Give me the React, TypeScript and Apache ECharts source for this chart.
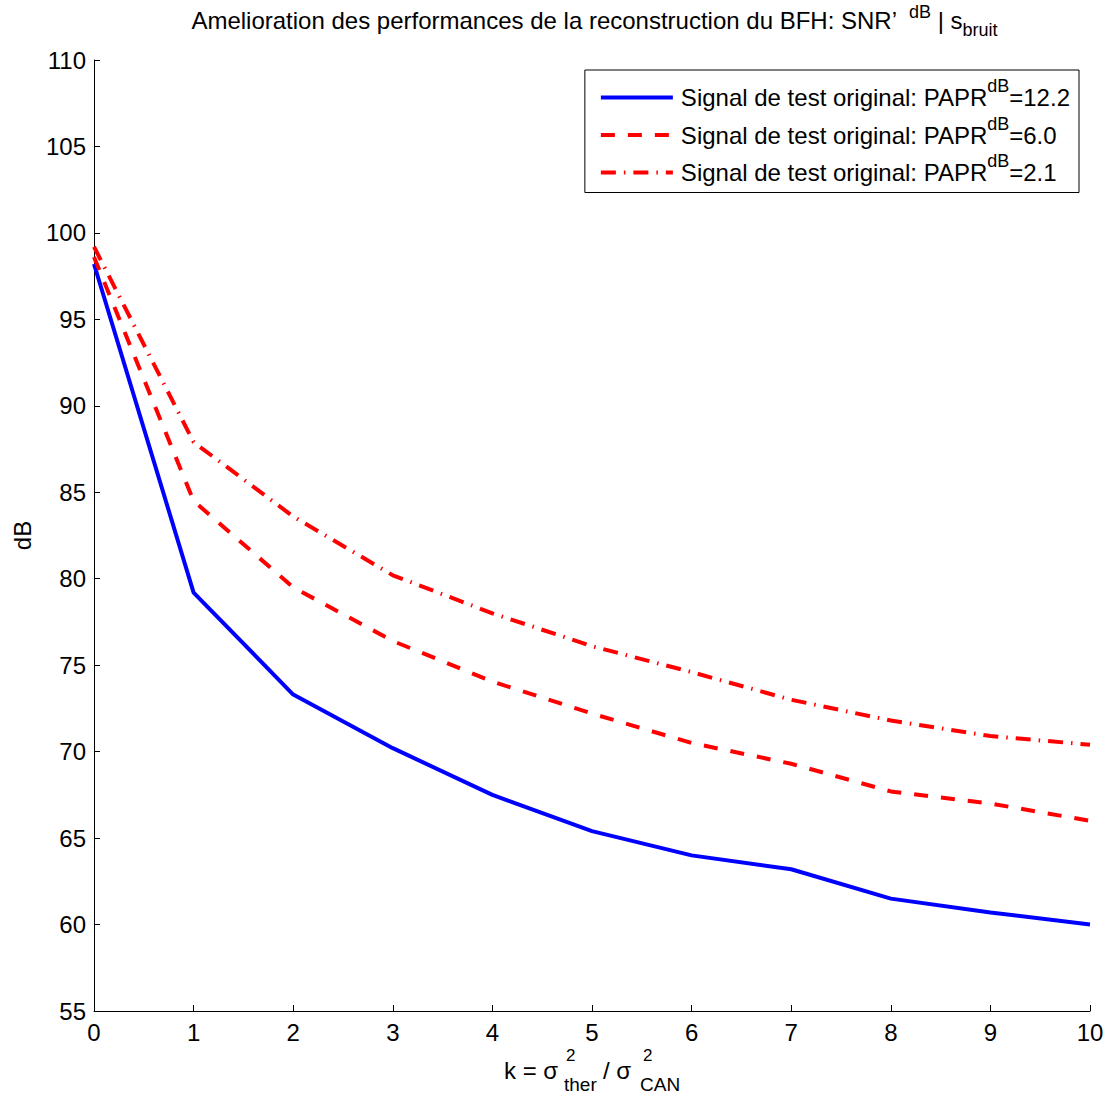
import React, { useEffect, useRef } from "react";
import * as echarts from "echarts";

const xValues = [0, 1, 2, 3, 4, 5, 6, 7, 8, 9, 10];
const papr122 = [98.2, 79.2, 73.3, 70.2, 67.5, 65.4, 64.0, 63.2, 61.5, 60.7, 60.0];
const papr60 = [98.6, 84.5, 79.5, 76.4, 74.05, 72.2, 70.5, 69.3, 67.7, 67.0, 66.0];
const papr21 = [99.2, 87.9, 83.6, 80.2, 78.0, 76.1, 74.6, 73.0, 71.8, 70.9, 70.4];
const paprLabels = ["12.2", "6.0", "2.1"];
const seriesNames = [
  "Signal de test original: PAPR^dB=12.2",
  "Signal de test original: PAPR^dB=6.0",
  "Signal de test original: PAPR^dB=2.1",
];
const titleMain = "Amelioration des performances de la reconstruction du BFH: SNR’";
const titleSup = "dB";
const titleMid = " | s";
const titleSub = "bruit";

const FONT = "'Liberation Sans', Arial, Helvetica, sans-serif";
const FS = 24;

function measure(text: string, size: number): number {
  const ctx = document.createElement("canvas").getContext("2d");
  if (!ctx) return text.length * size * 0.5;
  ctx.font = `${size}px ${FONT}`;
  return ctx.measureText(text).width;
}

export default function App() {
  const ref = useRef<HTMLDivElement>(null);
  useEffect(() => {
    document.body.style.margin = "0";
    if (!ref.current) return;
    const chart = echarts.init(ref.current, null, { renderer: "svg" });
    const toData = (ys: number[]) => xValues.map((x, i) => [x, ys[i]]);

    const SUP = 18;
    const gapSup = 12;
    const w1 = measure(titleMain, FS);
    const w2 = measure(titleSup, SUP);
    const w3 = measure(titleMid, FS);
    const w4 = measure(titleSub, SUP);
    const total = w1 + gapSup + w2 + w3 + w4;
    const x0 = 594.5 - total / 2;
    const x2 = x0 + w1 + gapSup;
    const x3 = x2 + w2;
    const x4 = x3 + w3;
    const txt = (text: string, x: number, y: number, size: number) => ({
      type: "text",
      x,
      y,
      style: { text, fontSize: size, fontFamily: FONT, fill: "#000", align: "left", verticalAlign: "middle" },
    });

    const option: any = {
      animation: false,
      backgroundColor: "#fff",
      textStyle: { fontFamily: FONT },
      grid: {
        left: 94,
        right: 23,
        top: 60,
        bottom: 84,
        containLabel: false,
        outerBoundsMode: "none",
      },
      xAxis: {
        type: "value",
        min: 0,
        max: 10,
        interval: 1,
        axisLine: { show: true, lineStyle: { color: "#000", width: 1 } },
        axisTick: { show: true, inside: true, length: 6, lineStyle: { color: "#000" } },
        axisLabel: { color: "#000", fontSize: FS, fontFamily: FONT, margin: 9 },
        splitLine: { show: false },
      },
      yAxis: {
        type: "value",
        min: 55,
        max: 110,
        interval: 5,
        name: "dB",
        nameLocation: "middle",
        nameGap: 60,
        nameTextStyle: { color: "#000", fontSize: FS, fontFamily: FONT },
        axisLine: { show: true, lineStyle: { color: "#000", width: 1 } },
        axisTick: { show: true, inside: true, length: 6, lineStyle: { color: "#000" } },
        axisLabel: { color: "#000", fontSize: FS, fontFamily: FONT, margin: 8 },
        splitLine: { show: false },
      },
      legend: {
        orient: "vertical",
        right: 34,
        top: 70,
        padding: [7, 9, 8, 14],
        itemWidth: 72,
        itemHeight: 20,
        itemGap: 5,
        borderColor: "#000",
        borderWidth: 1,
        borderRadius: 0,
        backgroundColor: "#fff",
        lineStyle: { width: 4 },
        itemStyle: { opacity: 0, borderWidth: 0 },
        data: seriesNames,
        formatter: (name: string) => {
          const idx = seriesNames.indexOf(name);
          return `{f|Signal de test original: PAPR}{sup|dB}{a|=${paprLabels[idx]}}`;
        },
        textStyle: {
          color: "#000",
          fontSize: FS,
          fontFamily: FONT,
          rich: {
            f: { fontSize: FS, lineHeight: 41, fontFamily: FONT, color: "#000", padding: [0, 0, 0, 3] },
            a: { fontSize: FS, lineHeight: 41, fontFamily: FONT, color: "#000" },
            sup: { fontSize: 18, lineHeight: 10, verticalAlign: "top", fontFamily: FONT, color: "#000" },
          },
        },
      },
      series: [
        {
          name: seriesNames[0],
          type: "line",
          data: toData(papr122),
          symbol: "none",
          lineStyle: { color: "#0000ff", width: 4, type: "solid" },
          itemStyle: { color: "#0000ff" },
        },
        {
          name: seriesNames[1],
          type: "line",
          data: toData(papr60),
          symbol: "none",
          lineStyle: { color: "#ff0000", width: 4, type: [14, 13] },
          itemStyle: { color: "#ff0000" },
        },
        {
          name: seriesNames[2],
          type: "line",
          data: toData(papr21),
          symbol: "none",
          lineStyle: { color: "#ff0000", width: 4, type: [15, 8, 1.5, 8] },
          itemStyle: { color: "#ff0000" },
        },
      ],
      graphic: [
        txt(titleMain, x0, 20.5, FS),
        txt(titleSup, x2, 11.5, SUP),
        txt(titleMid, x3, 20.5, FS),
        txt(titleSub, x4, 30, SUP),
        txt("k = σ", 504, 1070, FS),
        txt("2", 566, 1055, 17),
        txt("ther", 564, 1084, 19),
        txt("/ σ", 603, 1070, FS),
        txt("2", 643, 1055, 17),
        txt("CAN", 640, 1084, 19),
      ],
    };
    chart.setOption(option);
    return () => chart.dispose();
  }, []);
  return <div ref={ref} style={{ width: 1113, height: 1095 }} />;
}
